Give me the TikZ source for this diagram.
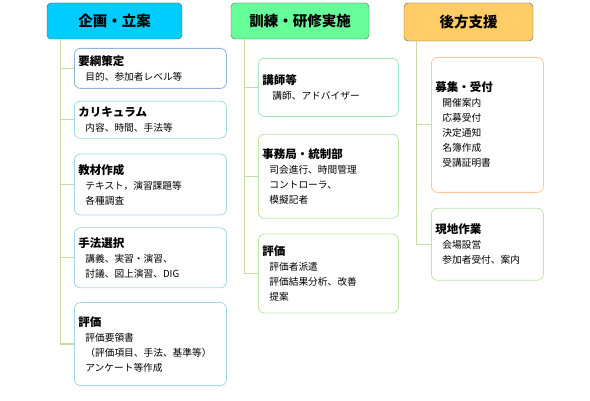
\documentclass[tikz,border=0pt]{standalone}
\usepackage{fontspec}
\setmainfont{Noto Sans CJK JP}
\usepackage{tikz}
\usetikzlibrary{positioning}

\definecolor{plancyan}{HTML}{00CCFF}
\definecolor{drillgreen}{HTML}{66FF99}
\definecolor{supportorange}{HTML}{FFCC66}
\definecolor{trunkgreen}{HTML}{C3DEA0}
\definecolor{blueedge}{HTML}{95B3D7}
\definecolor{cyanedge}{HTML}{A5D8E6}
\definecolor{mintedge}{HTML}{A0E8C0}
\definecolor{greenedge}{HTML}{C0E6A8}
\definecolor{peachedge}{HTML}{FAC8A0}

\newcommand{\boxhead}[1]{{\fontsize{11.5}{15}\selectfont\bfseries #1}}
\newcommand{\ind}{\hspace*{7pt}}

\begin{document}
\begin{tikzpicture}[x=1pt, y=-1pt,
  head/.style={draw=black!65, rounded corners=4pt, font=\fontsize{14.5}{16}\selectfont\bfseries, minimum height=36pt, inner sep=0pt},
  item/.style={draw, rounded corners=6pt, fill=white, align=left, inner xsep=4pt, inner ysep=0pt, font=\fontsize{9.7}{15}\selectfont, line width=0.8pt},
  itemplan/.style={item, draw=cyanedge, text width=144pt},
  itemdrill/.style={item, draw=greenedge, text width=132pt},
  itemsupport/.style={item, draw=greenedge, text width=104pt},
  trunk/.style={draw=trunkgreen, line width=1.2pt}
]
\useasboundingbox (0,0) rectangle (590,401);

% column heads
\node[head, fill=plancyan, minimum width=135pt] (plan) at (114.5,21) {企画・立案};
\node[head, fill=drillgreen, minimum width=138pt] (drill) at (300,21) {訓練・研修実施};
\node[head, fill=supportorange, minimum width=129pt, minimum height=38pt] (support) at (468.5,22) {後方支援};

% planning
\node[itemplan, draw=blueedge, minimum height=40pt, anchor=north west] (outline) at (74,48)
  {\boxhead{要綱策定}\\\ind 目的、参加者レベル等};
\node[itemplan, minimum height=37pt, below=12pt of outline] (curric)
  {\boxhead{カリキュラム}\\\ind 内容、時間、手法等};
\node[itemplan, minimum height=61pt, below=15pt of curric] (material)
  {\boxhead{教材作成}\\\ind テキスト，演習課題等\\\ind 各種調査};
\node[itemplan, minimum height=60pt, below=12pt of material] (method)
  {\boxhead{手法選択}\\\ind 講義、実習・演習、\\\ind 討議、図上演習、DIG};
\node[itemplan, minimum height=83pt, below=14pt of method] (evalplan)
  {\boxhead{評価}\\\ind 評価要領書\\\ind （評価項目、手法、基準等）\\\ind アンケート等作成};

% training
\node[itemdrill, draw=mintedge, minimum height=58pt, anchor=north west] (lecturer) at (258,58)
  {\boxhead{講師等}\\\hspace*{10pt}講師、アドバイザー};
\node[itemdrill, minimum height=84pt, below=17pt of lecturer] (office)
  {\boxhead{事務局・統制部}\\\ind 司会進行、時間管理\\\ind コントローラ、\\\ind 模擬記者};
\node[itemdrill, minimum height=79pt, below=15pt of office] (evaldrill)
  {\boxhead{評価}\\\ind 評価者派遣\\\ind 評価結果分析、改善\\\ind 提案};

% support
\node[itemsupport, draw=peachedge, minimum height=135pt, anchor=north west] (recruit) at (431,57)
  {\boxhead{募集・受付}\\\ind 開催案内\\\ind 応募受付\\\ind 決定通知\\\ind 名簿作成\\\ind 受講証明書};
\node[itemsupport, minimum height=72pt, below=15pt of recruit] (onsite)
  {\boxhead{現地作業}\\\ind 会場設営\\\ind 参加者受付、案内};

% trunks
\foreach \b in {outline,curric,material,method,evalplan}
  \draw[trunk] ([xshift=14pt]plan.south west) |- (\b.west);
\foreach \b in {lecturer,office,evaldrill}
  \draw[trunk] ([xshift=14pt]drill.south west) |- (\b.west);
\foreach \b in {recruit,onsite}
  \draw[trunk] ([xshift=13pt]support.south west) |- (\b.west);
\end{tikzpicture}
\end{document}
